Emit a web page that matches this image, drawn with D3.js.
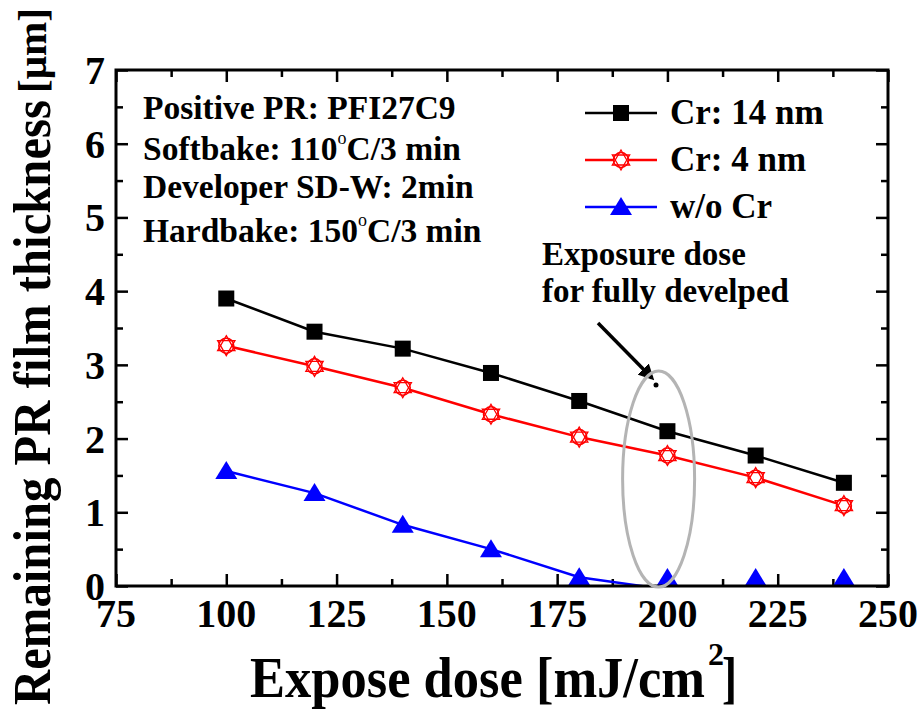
<!DOCTYPE html>
<html>
<head>
<meta charset="utf-8">
<script src="https://cdn.jsdelivr.net/npm/d3@7"></script>
<style>
  body { margin: 0; background: #fff; }
  text { font-family: "Liberation Serif", "Times New Roman", serif; font-weight: bold; fill: #000; }
</style>
</head>
<body>
<div id="chart"></div>
<script>
// data
var doses = [100, 120, 140, 160, 180, 200, 220, 240];
var cr14 = [3.90, 3.45, 3.22, 2.89, 2.51, 2.10, 1.77, 1.40];
var cr4 = [3.26, 2.98, 2.69, 2.33, 2.02, 1.77, 1.47, 1.09];
var woCr = [1.56, 1.26, 0.83, 0.50, 0.12, -0.05, -0.05, -0.05];
var xTicks = [75, 100, 125, 150, 175, 200, 225, 250];
var yTicks = [0, 1, 2, 3, 4, 5, 6, 7];
var seriesNames = ['Cr: 14 nm', 'Cr: 4 nm', 'w/o Cr'];
var notes = ['Positive PR: PFI27C9', 'Softbake: 110|C/3 min', 'Developer SD-W: 2min', 'Hardbake: 150|C/3 min'];

var width = 918,
  height = 709,
  plotLeft = 116,
  plotRight = 888,
  plotTop = 70,
  plotBottom = 586;

var x = d3.scaleLinear().domain([75, 250]).range([plotLeft, plotRight]);
var y = d3.scaleLinear().domain([0, 7]).range([plotBottom, plotTop]);

var svg = d3.select('#chart').append('svg')
  .attr('width', width)
  .attr('height', height);

var defs = svg.append('defs');

defs.append('clipPath')
    .attr('id', 'plot')
  .append('rect')
    .attr('x', plotLeft)
    .attr('y', plotTop)
    .attr('width', plotRight - plotLeft)
    .attr('height', plotBottom - plotTop);

defs.append('marker')
    .attr('id', 'arrow')
    .attr('viewBox', '0 -5 10 10')
    .attr('refX', 8)
    .attr('refY', 0)
    .attr('markerWidth', 4.5)
    .attr('markerHeight', 4.5)
    .attr('orient', 'auto')
  .append('path')
    .attr('d', 'M0,-5L10,0L0,5Z');

// axes, ticks inward on all four sides
var minorX = d3.range(87.5, 250, 25);
var minorY = d3.range(0.5, 7, 1);

function ticks(axis, values, len) {
  return function (g) {
    g.call(axis.tickValues(values).tickSizeInner(-len).tickSizeOuter(0).tickFormat(''));
    g.selectAll('.domain').remove();
    g.selectAll('.tick line').attr('stroke', '#000').attr('stroke-width', 2.5);
  };
}

svg.append('g').attr('transform', 'translate(0,' + plotBottom + ')').call(ticks(d3.axisBottom(x), xTicks, 12));
svg.append('g').attr('transform', 'translate(0,' + plotBottom + ')').call(ticks(d3.axisBottom(x), minorX, 7));
svg.append('g').attr('transform', 'translate(0,' + plotTop + ')').call(ticks(d3.axisTop(x), xTicks, 12));
svg.append('g').attr('transform', 'translate(0,' + plotTop + ')').call(ticks(d3.axisTop(x), minorX, 7));
svg.append('g').attr('transform', 'translate(' + plotLeft + ',0)').call(ticks(d3.axisLeft(y), yTicks, 12));
svg.append('g').attr('transform', 'translate(' + plotLeft + ',0)').call(ticks(d3.axisLeft(y), minorY, 7));
svg.append('g').attr('transform', 'translate(' + plotRight + ',0)').call(ticks(d3.axisRight(y), yTicks, 12));
svg.append('g').attr('transform', 'translate(' + plotRight + ',0)').call(ticks(d3.axisRight(y), minorY, 7));

// tick labels
svg.append('g').selectAll('text')
    .data(xTicks)
  .enter().append('text')
    .attr('x', function (d) { return x(d); })
    .attr('y', 627)
    .attr('text-anchor', 'middle')
    .attr('font-size', 40)
    .text(function (d) { return d; });

svg.append('g').selectAll('text')
    .data(yTicks)
  .enter().append('text')
    .attr('x', 105)
    .attr('y', function (d) { return y(d) + 14; })
    .attr('text-anchor', 'end')
    .attr('font-size', 40)
    .text(function (d) { return d; });

// lines
var line = d3.line()
  .x(function (d) { return x(d[0]); })
  .y(function (d) { return y(d[1]); });

var series = [
  { name: seriesNames[0], values: cr14, color: '#000', symbol: 'square' },
  { name: seriesNames[1], values: cr4, color: '#ff0000', symbol: 'star' },
  { name: seriesNames[2], values: woCr, color: '#0000ff', symbol: 'triangle' }
];

var plot = svg.append('g').attr('clip-path', 'url(#plot)');

plot.selectAll('path.series')
    .data(series)
  .enter().append('path')
    .attr('class', 'series')
    .attr('fill', 'none')
    .attr('stroke', function (d) { return d.color; })
    .attr('stroke-width', 2.5)
    .attr('d', function (d) { return line(d3.zip(doses, d.values)); });

function drawSymbol(g, s, cx, cy) {
  if (s.symbol === 'square') {
    g.append('rect')
      .attr('x', cx - 8).attr('y', cy - 8)
      .attr('width', 16).attr('height', 16)
      .attr('fill', s.color);
  } else if (s.symbol === 'triangle') {
    g.append('path')
      .attr('d', 'M' + cx + ',' + (cy - 10) + 'L' + (cx + 11) + ',' + (cy + 8) + 'L' + (cx - 11) + ',' + (cy + 8) + 'Z')
      .attr('fill', s.color);
  } else {
    g.append('circle')
      .attr('cx', cx).attr('cy', cy).attr('r', 7.5)
      .attr('fill', '#fff').attr('stroke', s.color).attr('stroke-width', 1.5);
    [0, 180].forEach(function (rot) {
      var pts = [0, 120, 240].map(function (a) {
        var r = (a + rot - 90) * Math.PI / 180;
        return [cx + 10 * Math.cos(r), cy + 10 * Math.sin(r)];
      });
      g.append('path')
        .attr('d', 'M' + pts.join('L') + 'Z')
        .attr('fill', 'none').attr('stroke', s.color).attr('stroke-width', 1.3);
    });
  }
}

var marks = svg.append('g');
series.forEach(function (s) {
  doses.forEach(function (dose, i) {
    // markers below zero sit on the axis
    var cy = Math.min(y(s.values[i]), y(0) - 8);
    drawSymbol(marks, s, x(dose), cy);
  });
});

// frame
svg.append('rect')
  .attr('x', plotLeft).attr('y', plotTop)
  .attr('width', plotRight - plotLeft).attr('height', plotBottom - plotTop)
  .attr('fill', 'none').attr('stroke', '#000').attr('stroke-width', 3);

// legend
var legend = svg.append('g').selectAll('g')
    .data(series)
  .enter().append('g')
    .attr('transform', function (d, i) { return 'translate(585,' + (113 + i * 47) + ')'; });

legend.append('line')
  .attr('x1', 0).attr('x2', 72)
  .attr('stroke', function (d) { return d.color; })
  .attr('stroke-width', 2.5);

legend.each(function (d) { drawSymbol(d3.select(this), d, 36, 0); });

legend.append('text')
  .attr('x', 85)
  .attr('y', 11)
  .attr('font-size', 35)
  .text(function (d) { return d.name; });

// process notes, "|" marks a superscript degree sign
var noteText = svg.append('g').selectAll('text')
    .data(notes)
  .enter().append('text')
    .attr('x', 143)
    .attr('y', function (d, i) { return [119, 160, 198, 242][i]; })
    .attr('font-size', 33.5);

noteText.each(function (d) {
  var t = d3.select(this);
  var parts = d.split('|');
  t.append('tspan').text(parts[0]);
  if (parts.length > 1) {
    t.append('tspan').attr('dy', -16).attr('font-size', 18).attr('font-weight', 'normal').text('o');
    t.append('tspan').attr('dy', 16).text(parts[1]);
  }
});

// annotation
svg.append('text').attr('x', 542).attr('y', 265).attr('font-size', 33).text('Exposure dose');
svg.append('text').attr('x', 542).attr('y', 302).attr('font-size', 33).text('for fully develped');

svg.append('line')
  .attr('x1', 598).attr('y1', 323)
  .attr('x2', 652).attr('y2', 378)
  .attr('stroke', '#000').attr('stroke-width', 3.5)
  .attr('marker-end', 'url(#arrow)');

svg.append('circle').attr('cx', 656).attr('cy', 385).attr('r', 2.5).attr('fill', '#000');

svg.append('ellipse')
  .attr('cx', x(198)).attr('cy', y(1.45))
  .attr('rx', 36).attr('ry', 108)
  .attr('fill', 'none')
  .attr('stroke', '#b4b4b4')
  .attr('stroke-width', 3);

// axis titles
svg.append('text')
  .attr('x', 250).attr('y', 697)
  .attr('font-size', 56)
  .attr('textLength', 455)
  .attr('lengthAdjust', 'spacingAndGlyphs')
  .text('Expose dose [mJ/cm');
svg.append('text').attr('x', 708).attr('y', 665).attr('font-size', 32).text('2');
svg.append('text').attr('x', 722).attr('y', 697).attr('font-size', 56)
  .attr('textLength', 15).attr('lengthAdjust', 'spacingAndGlyphs').text(']');

var yt = svg.append('g').attr('transform', 'translate(50,705) rotate(-90)');
yt.append('text')
  .attr('x', 0).attr('y', 0)
  .attr('font-size', 52)
  .attr('textLength', 605)
  .attr('lengthAdjust', 'spacingAndGlyphs')
  .text('Remaining PR film thickness');
yt.append('text')
  .attr('x', 612).attr('y', -4)
  .attr('font-size', 40)
  .attr('font-weight', 'normal')
  .attr('textLength', 85)
  .attr('lengthAdjust', 'spacingAndGlyphs')
  .text('[\u03bcm]');
</script>
</body>
</html>
